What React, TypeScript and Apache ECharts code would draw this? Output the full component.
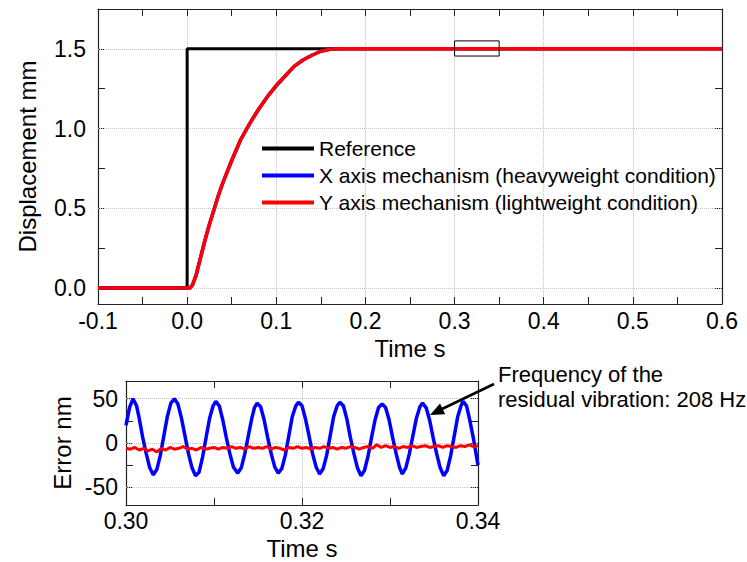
import React, { useEffect, useRef } from "react";
import * as echarts from "echarts";

const FONT = "'Liberation Sans', Arial, sans-serif";

// Top chart: step response (time s, displacement mm)
const referenceStep: [number, number][] = [
  [-0.1, 0], [0, 0], [0, 1.5], [0.6, 1.5],
];
const responseCurve: [number, number][] = [
  [-0.1, 0], [0.0, 0], [0.003, 0], [0.006, 0.02], [0.01, 0.08], [0.015, 0.19],
  [0.02, 0.3], [0.025, 0.4], [0.03, 0.49], [0.035, 0.58], [0.04, 0.66],
  [0.05, 0.8], [0.06, 0.93], [0.07, 1.03], [0.08, 1.12], [0.09, 1.2],
  [0.1, 1.27], [0.11, 1.33], [0.12, 1.39], [0.13, 1.43], [0.14, 1.46],
  [0.15, 1.485], [0.16, 1.497], [0.17, 1.5], [0.6, 1.5],
];
const zoomBox: [number, number][] = [
  [0.3, 1.455], [0.35, 1.455], [0.35, 1.55], [0.3, 1.55], [0.3, 1.455],
];
const topYLabels = [0, 0.5, 1.0, 1.5];
const topYTicks = [0, 0.25, 0.5, 0.75, 1.0, 1.25, 1.5];
const topGridY = [0, 0.5, 1.0, 1.5];

// Bottom chart: residual error (time s, error nm)
const xAxisError: [number, number][] = [
  [0.3, 20], [0.3004, 40], [0.3008, 50], [0.3012, 42], [0.3015, 28], [0.3019, 6],
  [0.3023, -12], [0.3027, -28], [0.3031, -36], [0.3035, -30], [0.3039, -14],
  [0.3043, 8], [0.3047, 30], [0.3051, 45], [0.3055, 50], [0.3059, 44],
  [0.3063, 28], [0.3067, 8], [0.3071, -12], [0.3075, -28], [0.3079, -37],
  [0.3083, -33], [0.3087, -16], [0.3091, 6], [0.3095, 28], [0.3099, 42],
  [0.3102, 47], [0.3106, 42], [0.311, 26], [0.3114, 6], [0.3118, -12],
  [0.3122, -27], [0.3127, -34], [0.3131, -28], [0.3135, -12], [0.3139, 8],
  [0.3143, 28], [0.3146, 40], [0.3149, 45], [0.3153, 41], [0.3157, 26],
  [0.3161, 6], [0.3165, -12], [0.3169, -27], [0.3173, -34], [0.3177, -29],
  [0.3181, -14], [0.3185, 8], [0.3189, 30], [0.3193, 42], [0.3196, 46],
  [0.32, 42], [0.3204, 27], [0.3208, 8], [0.3212, -12], [0.3216, -27],
  [0.322, -35], [0.3224, -29], [0.3228, -14], [0.3232, 8], [0.3236, 30],
  [0.324, 42], [0.3243, 46], [0.3247, 42], [0.3251, 27], [0.3255, 6],
  [0.3259, -12], [0.3263, -28], [0.3267, -37], [0.3271, -31], [0.3275, -15],
  [0.3279, 6], [0.3283, 26], [0.3287, 40], [0.3291, 44], [0.3295, 40],
  [0.3299, 26], [0.3303, 6], [0.3307, -12], [0.3311, -28], [0.3314, -35],
  [0.3318, -28], [0.3322, -12], [0.3326, 8], [0.333, 28], [0.3334, 41],
  [0.3337, 45], [0.3341, 40], [0.3345, 26], [0.3349, 6], [0.3353, -12],
  [0.3357, -28], [0.3361, -37], [0.3365, -31], [0.3369, -14], [0.3373, 8],
  [0.3377, 30], [0.3381, 43], [0.3383, 47], [0.3387, 42], [0.3391, 24],
  [0.3395, 4], [0.34, -25],
];
const yAxisError: [number, number][] = [
  [0.3, -6], [0.3005, -7], [0.301, -5], [0.3015, -8], [0.302, -6], [0.3025, -9],
  [0.303, -7], [0.3035, -10], [0.304, -6], [0.3045, -8], [0.305, -5], [0.3055, -7],
  [0.306, -6], [0.3065, -4], [0.307, -7], [0.3075, -6], [0.308, -8], [0.3085, -5],
  [0.309, -7], [0.3095, -6], [0.31, -5], [0.3105, -7], [0.311, -5], [0.3115, -6],
  [0.312, -4], [0.3125, -6], [0.313, -5], [0.3135, -7], [0.314, -4], [0.3145, -6],
  [0.315, -5], [0.3155, -6], [0.316, -4], [0.3165, -7], [0.317, -5], [0.3175, -6],
  [0.318, -8], [0.3185, -5], [0.319, -6], [0.3195, -4], [0.32, -6], [0.3205, -5],
  [0.321, -7], [0.3215, -5], [0.322, -6], [0.3225, -4], [0.323, -6], [0.3235, -5],
  [0.324, -7], [0.3245, -5], [0.325, -6], [0.3255, -4], [0.326, -5], [0.3265, -7],
  [0.327, -5], [0.3275, -4], [0.328, -6], [0.3285, -2], [0.329, -5], [0.3295, -3],
  [0.33, -5], [0.3305, -4], [0.331, -6], [0.3315, -4], [0.332, -5], [0.3325, -3],
  [0.333, -5], [0.3335, -4], [0.334, -3], [0.3345, -5], [0.335, -4], [0.3355, -3],
  [0.336, -5], [0.3365, -3], [0.337, -4], [0.3375, -5], [0.338, -3], [0.3385, -4],
  [0.339, -2], [0.3395, -4], [0.34, -3],
];
const bottomYLabels = [-50, 0, 50];
const bottomYTicks = [-50, -25, 0, 25, 50];
const bottomGridY = [-50, 0, 50];

const legendNames = [
  "Reference",
  "X axis mechanism (heavyweight condition)",
  "Y axis mechanism (lightweight condition)",
];
const annotationText = "Frequency of the\nresidual vibration: 208 Hz";

const AXIS_COLOR = "#222";
const GRID_COLOR = "#c4c4c4";

function baseAxis(extra: any) {
  return {
    axisLine: { show: true, onZero: false, lineStyle: { color: AXIS_COLOR, width: 1.2 } },
    axisTick: { show: true, inside: true, length: 7, lineStyle: { color: AXIS_COLOR } },
    nameTextStyle: { fontFamily: FONT, fontSize: 24, color: "#000" },
    ...extra,
  };
}

function gridMarkLine(values: number[]) {
  return {
    silent: true,
    symbol: "none",
    z: 1,
    label: { show: false },
    lineStyle: { color: GRID_COLOR, type: "dotted", width: 1 },
    data: values.map((v) => ({ yAxis: v })),
  };
}

export default function App() {
  const ref = useRef<HTMLDivElement>(null);
  useEffect(() => {
    if (!ref.current) return;
    const chart = echarts.init(ref.current, null, { renderer: "svg" });
    const labelStyle = { fontFamily: FONT, fontSize: 23, color: "#000" };
    chart.setOption({
      animation: false,
      backgroundColor: "#fff",
      grid: [
        { left: 98, top: 9, width: 624, height: 295, show: false },
        { left: 126, top: 381, width: 352, height: 124, show: false },
      ],
      legend: {
        orient: "vertical",
        left: 262,
        top: 138,
        padding: 0,
        itemGap: 6,
        itemWidth: 52,
        itemHeight: 4,
        icon: "rect",
        data: legendNames,
        textStyle: { fontFamily: FONT, fontSize: 21, color: "#000", lineHeight: 21 },
      },
      xAxis: [
        baseAxis({
          type: "value", gridIndex: 0, position: "bottom", min: -0.1, max: 0.6, interval: 0.1,
          name: "Time s", nameLocation: "middle", nameGap: 32,
          axisLabel: { ...labelStyle, margin: 5, formatter: (v: number) => v.toFixed(1) },
          minorTick: { show: true, splitNumber: 2, length: 7, lineStyle: { color: AXIS_COLOR } },
          splitLine: { show: true, showMinLine: false, showMaxLine: false, lineStyle: { color: GRID_COLOR, type: "dotted" } },
        }),
        baseAxis({
          type: "value", gridIndex: 0, position: "top", min: -0.1, max: 0.6, interval: 0.1,
          axisLabel: { show: false },
          minorTick: { show: true, splitNumber: 2, length: 7, lineStyle: { color: AXIS_COLOR } },
          splitLine: { show: false },
        }),
        baseAxis({
          type: "value", gridIndex: 1, position: "bottom", min: 0.3, max: 0.34, interval: 0.02,
          name: "Time s", nameLocation: "middle", nameGap: 31,
          axisLabel: { ...labelStyle, margin: 4, formatter: (v: number) => v.toFixed(2) },
          minorTick: { show: true, splitNumber: 2, length: 7, lineStyle: { color: AXIS_COLOR } },
          splitLine: { show: true, showMinLine: false, showMaxLine: false, lineStyle: { color: GRID_COLOR, type: "dotted" } },
        }),
        baseAxis({
          type: "value", gridIndex: 1, position: "top", min: 0.3, max: 0.34, interval: 0.02,
          axisLabel: { show: false },
          minorTick: { show: true, splitNumber: 2, length: 7, lineStyle: { color: AXIS_COLOR } },
          splitLine: { show: false },
        }),
      ],
      yAxis: [
        baseAxis({
          type: "value", gridIndex: 0, position: "left", min: -0.1, max: 1.75,
          name: "Displacement mm", nameLocation: "middle", nameGap: 59,
          axisLabel: { ...labelStyle, margin: 12, customValues: topYLabels, formatter: (v: number) => v.toFixed(1) },
          axisTick: { show: true, inside: true, length: 7, customValues: topYTicks, lineStyle: { color: AXIS_COLOR } },
          splitLine: { show: false },
        }),
        baseAxis({
          type: "value", gridIndex: 0, position: "right", min: -0.1, max: 1.75,
          axisLabel: { show: false },
          axisTick: { show: true, inside: true, length: 7, customValues: topYTicks, lineStyle: { color: AXIS_COLOR } },
          splitLine: { show: false },
        }),
        baseAxis({
          type: "value", gridIndex: 1, position: "left", min: -70, max: 70,
          name: "Error nm", nameLocation: "middle", nameGap: 52,
          axisLabel: { ...labelStyle, margin: 8, customValues: bottomYLabels, formatter: (v: number) => String(v) },
          axisTick: { show: true, inside: true, length: 7, customValues: bottomYTicks, lineStyle: { color: AXIS_COLOR } },
          splitLine: { show: false },
        }),
        baseAxis({
          type: "value", gridIndex: 1, position: "right", min: -70, max: 70,
          axisLabel: { show: false },
          axisTick: { show: true, inside: true, length: 7, customValues: bottomYTicks, lineStyle: { color: AXIS_COLOR } },
          splitLine: { show: false },
        }),
      ],
      series: [
        {
          name: "Reference", type: "line", xAxisIndex: 0, yAxisIndex: 0, z: 3,
          data: referenceStep, showSymbol: false, color: "#000",
          lineStyle: { color: "#000", width: 3 },
          markLine: gridMarkLine(topGridY),
        },
        {
          name: legendNames[1], type: "line", xAxisIndex: 0, yAxisIndex: 0, z: 3,
          data: responseCurve, showSymbol: false, color: "#0000ff",
          lineStyle: { color: "#0000ff", width: 3.5 },
        },
        {
          name: legendNames[2], type: "line", xAxisIndex: 0, yAxisIndex: 0, z: 4,
          data: responseCurve, showSymbol: false, color: "#ff0000",
          lineStyle: { color: "#ff0000", width: 3.5 },
        },
        {
          name: "zoom box", type: "line", xAxisIndex: 0, yAxisIndex: 0, z: 5,
          data: zoomBox, showSymbol: false, color: "#000",
          lineStyle: { color: "#000", width: 1 },
        },
        {
          name: "X error", type: "line", xAxisIndex: 2, yAxisIndex: 2, z: 3,
          data: xAxisError, showSymbol: false, color: "#0000ff",
          lineStyle: { color: "#0000ff", width: 3.5 },
          markLine: gridMarkLine(bottomGridY),
        },
        {
          name: "Y error", type: "line", xAxisIndex: 2, yAxisIndex: 2, z: 4,
          data: yAxisError, showSymbol: false, color: "#ff0000",
          lineStyle: { color: "#ff0000", width: 3 },
        },
      ],
      graphic: [
        {
          type: "line", z: 100,
          shape: { x1: 494, y1: 384, x2: 442, y2: 409 },
          style: { stroke: "#000", lineWidth: 2.5 },
        },
        {
          type: "polygon", z: 100,
          shape: { points: [[430, 415], [445.2, 414.3], [440, 403.5]] },
          style: { fill: "#000" },
        },
        {
          type: "text", z: 100, x: 498, y: 362,
          style: {
            text: annotationText, fontFamily: FONT, fontSize: 22, lineHeight: 25,
            fill: "#000", verticalAlign: "top",
          },
        },
      ],
    });
    return () => chart.dispose();
  }, []);
  return (
    <div
      ref={ref}
      style={{ position: "fixed", left: 0, top: 0, width: 747, height: 562, background: "#fff" }}
    />
  );
}
